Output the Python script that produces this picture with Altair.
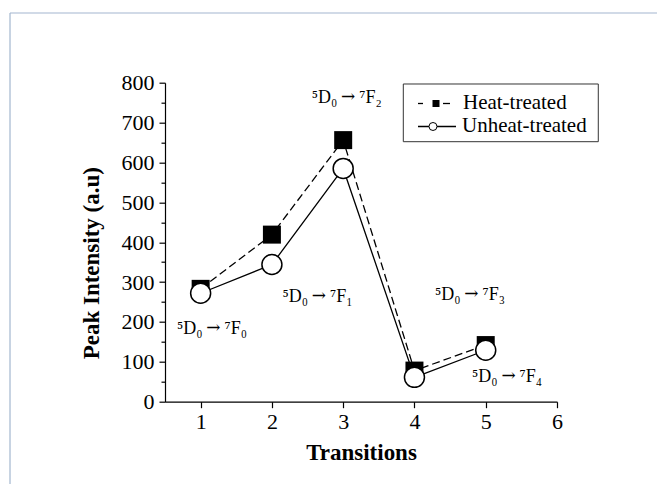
import altair as alt
import pandas as pd

# ---- data ----
transitions = [1, 2, 3, 4, 5]
heat_treated = [283, 419, 656, 78, 142]
unheat_treated = [272, 344, 585, 61, 129]

ann_left = ["⁵D₀", "⁵D₀", "⁵D₀", "⁵D₀", "⁵D₀"]
ann_right = ["⁷F₀", "⁷F₁", "⁷F₂", "⁷F₃", "⁷F₄"]
ann_x = [1.18, 2.66, 3.07, 4.80, 5.32]
ann_y = [182, 263, 762, 267, 61]

x_ticks = [1, 2, 3, 4, 5, 6]
y_ticks = list(range(0, 801, 50))

series_names = ["Heat-treated", "Unheat-treated"]

FONT = "Liberation Serif"

heat_df = pd.DataFrame({"Transition": transitions, "Intensity": heat_treated})
unheat_df = pd.DataFrame({"Transition": transitions, "Intensity": unheat_treated})
ann_df = pd.DataFrame({"Transition": ann_x, "Intensity": ann_y, "left": ann_left,
                       "right": ann_right, "arrow": ["→"] * len(ann_x)})
one = pd.DataFrame({"a": [0]})

x_axis = alt.Axis(
    values=x_ticks, title="Transitions", format="d",
    tickSize=6, labelPadding=4, titleY=40, titleBaseline="top",
    labelOverlap=False,
)
y_axis = alt.Axis(
    values=y_ticks, title="Peak Intensity (a.u)",
    labelExpr="datum.value % 100 == 0 ? datum.label : ''",
    tickSize={"condition": {"test": "datum.value % 100 == 0", "value": 6}, "value": 4},
    labelPadding=5, titleX=-62, titleY=180, titleAngle=270,
    labelOverlap=False,
)
X = alt.X("Transition:Q", scale=alt.Scale(domain=[0.5, 6], nice=False, zero=False), axis=x_axis)
Y = alt.Y("Intensity:Q", scale=alt.Scale(domain=[0, 800], nice=False), axis=y_axis)

heat_line = alt.Chart(heat_df).mark_line(
    color="black", strokeWidth=1.3, strokeDash=[8, 4]
).encode(x=X, y=Y)
unheat_line = alt.Chart(unheat_df).mark_line(
    color="black", strokeWidth=1.3
).encode(x=X, y=Y)
heat_pts = alt.Chart(heat_df).mark_point(
    shape="square", filled=True, color="black", size=324, opacity=1
).encode(x=X, y=Y)
unheat_pts = alt.Chart(unheat_df).mark_point(
    shape="circle", filled=True, fill="white", stroke="black", strokeWidth=1.5,
    size=400, opacity=1
).encode(x=X, y=Y)

ann_l = alt.Chart(ann_df).mark_text(
    font=FONT, fontSize=18, color="black", align="right", baseline="middle", dx=-11
).encode(x=X, y=Y, text="left:N")
ann_a = alt.Chart(ann_df).mark_text(
    font="DejaVu Serif", fontSize=17, color="black", align="center", baseline="middle", dy=-1
).encode(x=X, y=Y, text="arrow:N")
ann_r = alt.Chart(ann_df).mark_text(
    font=FONT, fontSize=18, color="black", align="left", baseline="middle", dx=11
).encode(x=X, y=Y, text="right:N")

# ---- outer frame (decoration) ----
frame_top = alt.Chart(one).mark_rule(color="#a3b6cf", strokeWidth=1.2).encode(
    x=alt.value(-155), x2=alt.value(492), y=alt.value(-69.7))
frame_left = alt.Chart(one).mark_rule(color="#a3b6cf", strokeWidth=1.2).encode(
    x=alt.value(-155), y=alt.value(-69.7), y2=alt.value(402))

# ---- legend (drawn by hand) ----
leg_box = alt.Chart(one).mark_rect(fill="white", stroke="#333", strokeWidth=1).encode(
    x=alt.value(238.3), x2=alt.value(433.3), y=alt.value(1.3), y2=alt.value(59))
leg_d1 = alt.Chart(one).mark_rule(color="black", strokeWidth=1.3).encode(
    x=alt.value(253), x2=alt.value(258), y=alt.value(20.8))
leg_d2 = alt.Chart(one).mark_rule(color="black", strokeWidth=1.3).encode(
    x=alt.value(278), x2=alt.value(285), y=alt.value(20.8))
leg_sq = alt.Chart(one).mark_point(shape="square", filled=True, color="black", size=49, opacity=1).encode(
    x=alt.value(271), y=alt.value(20.8))
leg_l2 = alt.Chart(one).mark_rule(color="black", strokeWidth=1.3).encode(
    x=alt.value(253), x2=alt.value(291), y=alt.value(43.8))
leg_ci = alt.Chart(one).mark_point(shape="circle", filled=True, fill="white", stroke="black",
                                   strokeWidth=1, size=64, opacity=1).encode(
    x=alt.value(268), y=alt.value(43.8))
leg_t1 = alt.Chart(one).mark_text(font=FONT, fontSize=21, align="left", baseline="middle",
                                  color="black", text=series_names[0]).encode(
    x=alt.value(298), y=alt.value(20.8))
leg_t2 = alt.Chart(one).mark_text(font=FONT, fontSize=21, align="left", baseline="middle",
                                  color="black", text=series_names[1]).encode(
    x=alt.value(297), y=alt.value(43.8))

chart = alt.layer(
    frame_top, frame_left,
    heat_line, unheat_line, heat_pts, unheat_pts, ann_l, ann_a, ann_r,
    leg_box, leg_d1, leg_d2, leg_sq, leg_l2, leg_ci, leg_t1, leg_t2,
).properties(
    width=392, height=319,
    autosize=alt.AutoSizeParams(type="none"),
    padding={"left": 157, "top": 74.7, "right": 100, "bottom": 82},
    background="white",
).configure_view(stroke=None).configure_axis(
    domainColor="black", domainWidth=1.2, tickColor="black", tickWidth=1.2,
    grid=False, labelFont=FONT, labelFontSize=22, labelColor="black",
    titleFont=FONT, titleFontSize=23, titleFontWeight="bold", titleColor="black",
    labelFlush=False, labelOverlap=False,
)

chart.save("out.html", embed_options={"renderer": "svg", "actions": False})
